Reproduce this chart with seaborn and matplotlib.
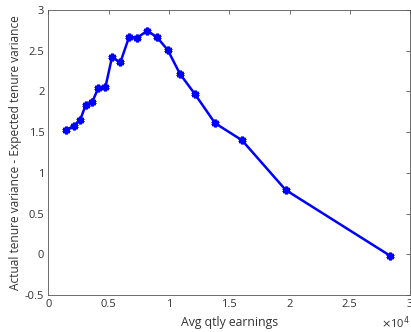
import matplotlib
matplotlib.use("Agg")
import matplotlib.pyplot as plt
import seaborn as sns
import pandas as pd

# Average quarterly earnings per bin and the excess of tenure variance
earnings = [1430, 2140, 2640, 3080, 3640, 4130, 4720, 5270, 5960, 6680,
            7370, 8200, 9000, 9890, 10910, 12160, 13820, 16060, 19680, 28370]
variance_gap = [1.53, 1.575, 1.655, 1.83, 1.875, 2.04, 2.05, 2.42, 2.355, 2.665,
                2.66, 2.745, 2.665, 2.51, 2.215, 1.965, 1.61, 1.40, 0.79, -0.02]

x_ticks = [0, 5000, 10000, 15000, 20000, 25000, 30000]
x_tick_labels = ["0", "0.5", "1", "1.5", "2", "2.5", "3"]
y_ticks = [-0.5, 0, 0.5, 1, 1.5, 2, 2.5, 3]
y_tick_labels = ["-0.5", "0", "0.5", "1", "1.5", "2", "2.5", "3"]

df = pd.DataFrame({"earnings": earnings, "gap": variance_gap})

sns.set_style("white")
plt.rcParams["font.family"] = ["Open Sans", "DejaVu Sans"]

fig = plt.figure(figsize=(4.11, 3.32), dpi=100)
ax = fig.add_axes([0.118, 0.1114, 0.8796, 0.8586])

sns.lineplot(data=df, x="earnings", y="gap", sort=False, ax=ax,
             color="#0000ff", linewidth=1.8, marker=(6, 2, 0),
             markersize=5.5, markeredgewidth=2.0, markeredgecolor="#0000ff")

ax.set_xlim(0, 30000)
ax.set_ylim(-0.5, 3)
ax.set_xticks(x_ticks)
ax.set_xticklabels(x_tick_labels)
ax.set_yticks(y_ticks)
ax.set_yticklabels(y_tick_labels)

for side in ["top", "right", "bottom", "left"]:
    ax.spines[side].set_visible(True)
    ax.spines[side].set_color("#555555")
    ax.spines[side].set_linewidth(0.6)

ax.tick_params(direction="in", length=3, width=0.6, color="#555555",
               labelcolor="#333333", labelsize=8, top=True, right=True,
               pad=3)

ax.set_xlabel("Avg qtly earnings", fontsize=8.8, color="#333333", labelpad=4)
ax.set_ylabel("Actual tenure variance - Expected tenure variance",
              fontsize=8.6, color="#333333", labelpad=2)

fig.text(0.998, 0.003, r"$\times$10$^4$", ha="right", va="bottom",
         fontsize=8, color="#333333")

fig.savefig("out.png", dpi=100)
